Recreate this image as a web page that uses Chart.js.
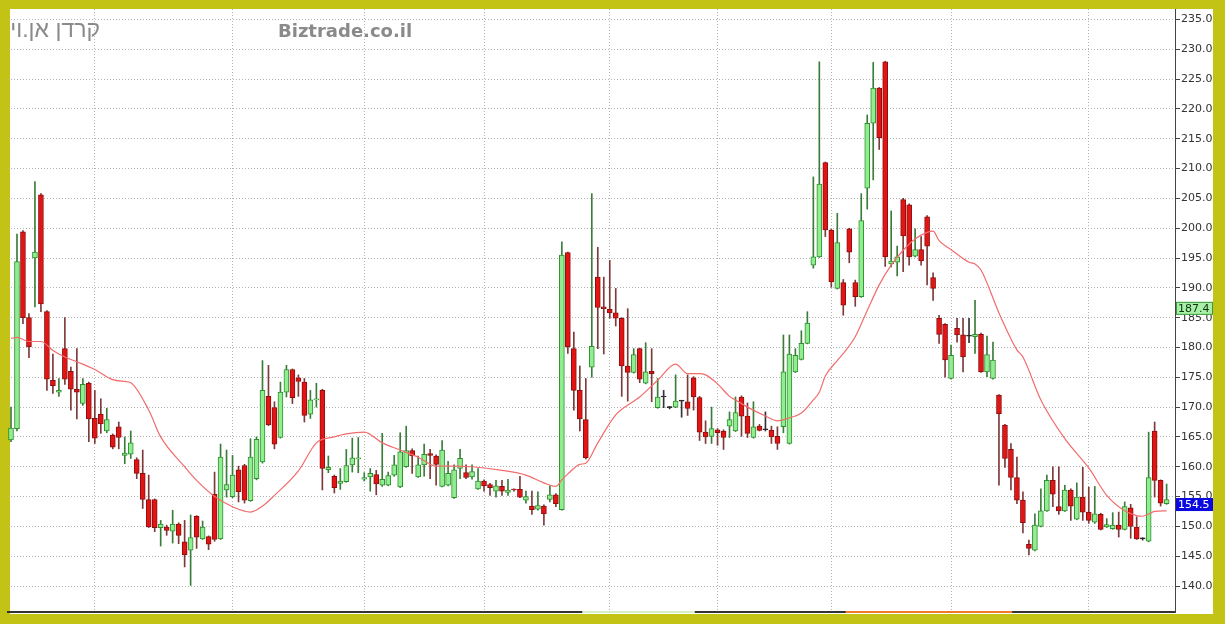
<!DOCTYPE html>
<html>

<head>
    <meta charset="utf-8">
    <title>chart</title>
    <script src="https://cdn.jsdelivr.net/npm/chart.js"></script>
    <style>
        html, body { margin: 0; padding: 0; background: #c3c316; overflow: hidden; }
        canvas { display: block; }
    </style>
</head>

<body>
    <canvas id="myChart" width="1225" height="624"></canvas>
    <script>
    // daily candles
    var opens = [164.5,166.4,199.4,185.0,195.0,205.6,186.0,174.5,172.5,179.8,
        176.0,173.0,170.6,174.0,168.1,168.8,166.0,165.3,166.7,161.9,
        162.1,161.2,158.9,154.5,154.5,149.8,149.9,149.2,150.4,147.4,
        146.0,151.7,147.9,148.3,155.4,147.9,156.1,155.0,159.5,160.2,
        154.3,158.0,160.8,171.8,169.9,164.9,172.5,176.3,174.9,174.2,
        168.8,171.2,172.8,159.5,158.4,157.2,157.5,160.3,161.3,157.9,
        158.3,158.7,156.9,156.9,158.6,156.6,160.0,162.7,158.3,160.3,
        162.2,161.8,156.7,156.9,154.8,159.7,159.0,158.3,156.3,157.6,
        157.0,155.9,156.7,155.7,156.2,156.2,154.4,153.4,152.9,153.4,
        154.5,155.3,152.8,195.9,179.8,172.8,167.9,176.7,191.8,186.8,
        186.4,185.8,184.9,176.9,175.8,179.8,174.0,176.0,169.9,171.7,
        169.9,170.0,171.0,170.9,174.9,171.6,165.8,165.1,166.2,166.0,
        166.8,166.0,171.7,168.5,164.9,166.8,166.2,166.1,165.1,166.7,
        163.9,175.9,178.0,180.7,193.8,195.2,211.0,199.7,189.9,190.9,
        199.9,190.9,188.5,206.7,217.6,223.5,227.9,194.0,194.3,204.8,
        203.9,195.3,196.4,201.9,191.7,184.9,183.9,174.8,183.2,182.1,
        181.9,181.8,182.2,175.9,174.8,172.0,167.0,162.9,158.2,154.4,
        147.0,146.0,150.0,152.6,157.7,153.3,152.6,156.1,151.2,154.9,
        152.4,150.7,152.0,149.9,149.6,150.2,149.5,153.1,149.9,147.9,
        147.5,166.0,157.7,153.8];
    var highs = [170.0,199.0,199.6,185.7,207.8,205.8,186.2,178.9,174.8,185.0,
        176.7,179.8,174.8,174.2,172.8,171.4,169.8,165.5,167.5,165.0,
        166.0,161.5,162.8,158.6,154.6,151.0,150.2,152.7,150.6,151.0,
        151.9,151.8,150.9,148.4,159.1,163.8,162.8,161.9,160.1,160.4,
        164.7,165.0,177.8,177.0,170.9,174.2,177.0,176.4,175.4,174.8,
        172.8,174.0,173.0,161.8,158.6,159.7,162.9,164.8,164.9,159.0,
        159.7,159.4,165.6,159.1,161.9,165.7,166.8,163.0,161.8,163.8,
        162.9,162.0,164.4,160.9,160.3,162.9,160.3,160.3,159.7,157.8,
        157.2,157.7,157.7,157.9,156.3,158.4,155.9,155.9,155.8,153.6,
        156.8,155.5,197.7,196.0,182.6,176.9,174.8,205.8,196.8,191.8,
        194.6,189.9,185.0,186.5,179.8,179.9,180.8,179.8,174.8,172.8,
        170.1,175.4,171.1,175.4,175.1,171.8,167.7,170.0,166.4,166.2,
        169.2,171.7,171.9,170.7,170.9,167.1,169.2,166.8,166.7,182.1,
        182.1,179.8,182.8,186.0,208.6,227.9,211.1,199.8,202.5,191.4,
        200.0,191.3,205.8,219.0,227.8,223.6,228.0,202.9,197.0,205.0,
        204.1,199.9,198.6,202.1,192.5,185.4,184.0,180.4,184.9,184.9,
        184.9,187.9,182.4,181.9,180.9,172.1,167.1,163.9,161.6,155.8,
        147.7,152.1,156.3,158.6,160.0,160.0,156.9,156.3,157.3,159.9,
        156.6,156.7,152.2,151.3,152.3,152.4,154.1,153.7,151.6,148.1,
        165.8,167.5,157.8,157.1];
    var lows = [164.2,166.0,184.0,178.3,186.8,186.0,172.8,172.3,171.8,173.8,
        169.5,168.0,170.3,164.2,163.9,165.6,165.7,163.0,163.0,160.5,
        161.4,158.0,153.0,149.8,149.1,146.7,148.5,147.2,147.1,143.2,
        140.1,146.3,147.8,146.1,147.5,147.8,154.9,154.8,154.1,153.9,
        154.2,157.8,160.6,166.9,163.0,164.8,171.7,170.6,171.8,167.5,
        168.1,170.0,156.1,159.0,155.6,156.2,157.4,159.1,159.0,157.6,
        155.9,155.3,156.7,156.8,158.4,156.5,159.9,158.9,158.2,158.4,
        158.0,156.9,156.6,156.8,154.7,158.0,158.0,157.9,156.2,155.9,
        155.2,154.9,155.2,155.2,155.9,154.8,153.9,152.0,152.7,150.2,
        154.1,153.3,152.7,179.0,169.5,166.0,161.3,175.0,179.8,178.9,
        184.9,183.6,171.8,171.0,175.7,174.1,173.9,170.9,169.8,169.9,
        169.7,169.9,168.3,168.6,169.5,164.4,163.9,163.9,163.6,162.9,
        164.9,165.9,165.1,164.9,164.8,166.0,166.0,163.9,162.9,165.7,
        163.8,175.8,177.9,180.6,193.3,195.1,198.6,190.1,189.8,185.4,
        194.2,186.9,188.4,203.2,208.1,213.2,193.6,193.5,192.0,192.7,
        193.8,195.2,193.8,190.5,187.9,180.7,175.0,174.7,180.9,175.9,
        180.8,179.0,175.8,175.1,174.7,156.9,159.9,156.1,153.8,148.9,
        145.2,145.9,149.9,152.5,153.3,152.0,152.5,151.0,151.1,151.0,
        150.5,150.5,149.4,149.8,149.5,148.2,149.4,148.0,147.8,147.7,
        147.4,154.9,153.4,153.7];
    var closes = [166.5,194.4,185.0,180.1,196.0,187.3,174.7,173.6,172.8,174.7,
        173.0,172.5,173.8,168.0,164.8,167.2,167.9,163.3,164.9,162.3,
        164.0,158.9,154.5,149.9,149.8,150.4,149.3,150.4,148.5,145.2,
        148.1,148.2,149.9,147.0,147.8,161.6,157.0,158.6,155.8,154.4,
        161.6,164.6,172.8,167.0,163.8,172.5,176.3,171.6,174.3,168.6,
        171.2,171.4,159.7,159.9,156.5,157.6,160.2,161.5,161.5,158.2,
        158.9,157.1,157.9,158.5,160.3,162.5,162.7,161.8,160.3,162.1,
        161.9,160.4,162.8,158.9,159.5,161.4,158.2,159.2,157.6,156.8,
        156.5,156.8,155.9,156.1,156.1,154.9,155.0,152.8,153.5,152.1,
        155.3,153.8,195.5,180.1,172.8,168.0,161.5,180.2,186.7,186.5,
        185.8,184.9,176.9,175.8,178.8,174.7,175.9,175.6,171.7,171.7,
        169.9,171.0,171.0,169.8,171.7,165.8,165.0,166.4,165.7,164.9,
        167.9,169.1,168.5,165.6,166.7,166.1,166.2,165.0,163.9,175.9,
        178.9,178.7,180.7,184.1,195.2,207.4,199.7,191.0,197.6,187.1,
        196.0,188.5,201.3,217.6,223.5,215.2,195.2,194.5,195.2,198.7,
        195.2,196.4,194.5,197.0,189.9,182.2,177.9,178.7,182.1,178.4,
        181.9,182.2,175.9,178.8,177.9,168.9,161.4,158.2,154.4,150.6,
        146.3,150.2,152.6,157.7,155.4,152.6,156.1,153.4,154.9,152.4,
        151.0,152.1,149.5,150.3,150.2,149.5,153.3,150.0,147.9,147.9,
        158.2,157.7,153.9,154.5];

    // moving average, read at these days
    var maDays = [0,1,3,5,7,9,11,14,17,19,20,23,25,29,31,34,37,40,42,44,
        48,51,54,56,59,62,65,68,71,74,77,82,86,89,91,92,93,95,96,98,
        101,104,105,108,111,113,115,116,118,120,121,123,126,128,130,132,134,135,136,138,
        139,141,143,145,147,149,151,153,154,155,157,160,161,162,165,168,169,172,176,180,
        183,186,188,189,191,193];
    var maValues = [181.5,181.7,181.0,181.0,179.5,178.4,177.6,176.3,174.6,174.3,174.1,169.5,165.0,160.0,157.7,155.0,153.3,152.4,153.4,155.2,
        159.3,164.0,165.0,165.5,165.8,164.0,162.8,161.6,160.1,160.1,160.0,159.4,158.6,157.3,156.7,157.8,158.8,160.4,160.6,164.0,
        168.7,171.0,171.7,174.5,177.2,175.6,175.6,175.4,173.9,171.8,171.2,170.0,168.5,167.7,168.2,169.0,171.2,172.5,175.2,177.8,
        179.0,181.8,186.2,190.5,193.8,196.3,198.2,199.3,199.5,197.9,196.4,194.3,194.0,193.0,185.8,179.6,178.4,171.2,164.7,159.8,
        155.2,152.6,151.8,151.7,152.5,152.6];

    var priceTicks = [140,145,150,155,160,165,170,175,180,185,190,195,200,205,210,215,220,225,230,235];
    var monthStarts = [14,37,59,79,100,118,137,157,180];
    var markers = [187.4, 154.5];

    // build bar data
    var bodies = opens.map(function (o, i) { return { x: i, y: [o, closes[i]] }; });
    var wicks = opens.map(function (o, i) { return { x: i, y: [lows[i], highs[i]] }; });
    var maPoints = maDays.map(function (d, i) { return { x: d, y: maValues[i] }; });

    function dir(i) {
        if (closes[i] > opens[i]) return 1;
        if (closes[i] < opens[i]) return -1;
        return 0;
    }

    var frame = {
        id: 'frame',
        beforeDraw: function (chart) {
            var ctx = chart.ctx;
            ctx.save();
            ctx.fillStyle = '#c3c316';
            ctx.fillRect(0, 0, chart.width, chart.height);
            ctx.fillStyle = '#ffffff';
            ctx.fillRect(10, 9, 1203, 605);
            ctx.restore();
        },
        beforeDatasetsDraw: function (chart) {
            var ctx = chart.ctx;
            ctx.save();
            ctx.fillStyle = '#8a8a8a';
            ctx.textBaseline = 'alphabetic';
            ctx.font = 'bold 18px "DejaVu Sans"';
            ctx.textAlign = 'left';
            ctx.fillText('Biztrade.co.il', 278, 37);
            // hebrew name, fitted to its box
            var heb = 'קרדן אן.וי';
            ctx.font = '18px "Liberation Sans"';
            var w = ctx.measureText(heb).width;
            var size = Math.round(18 * 90 / w);
            ctx.font = size + 'px "Liberation Sans"';
            ctx.direction = 'rtl';
            ctx.textAlign = 'right';
            ctx.fillText(heb, 100, 37);
            ctx.restore();
        },
        afterDraw: function (chart) {
            var ctx = chart.ctx;
            var xs = chart.scales.x, ys = chart.scales.y;
            var b = chart.chartArea.bottom;
            ctx.save();
            // bottom strip
            ctx.fillStyle = '#d4f0c4';
            ctx.fillRect(xs.getPixelForValue(95.4), b - 1, xs.getPixelForValue(114.2) - xs.getPixelForValue(95.4), 2);
            ctx.fillStyle = '#f07a2a';
            ctx.fillRect(xs.getPixelForValue(139.4), b - 1, xs.getPixelForValue(167.2) - xs.getPixelForValue(139.4), 2);
            // value boxes on the axis
            ctx.font = '11px "DejaVu Sans"';
            ctx.textBaseline = 'middle';
            ctx.textAlign = 'left';
            markers.forEach(function (v, k) {
                var y = ys.getPixelForValue(v) + 5;
                var x = chart.chartArea.right + 1;
                if (k === 0) {
                    ctx.fillStyle = '#a8f0a8';
                    ctx.fillRect(x, y - 6.5, 37, 13);
                    ctx.strokeStyle = '#3c9a3c';
                    ctx.lineWidth = 1;
                    ctx.strokeRect(x + 0.5, y - 6, 36, 12);
                    ctx.fillStyle = '#113311';
                } else {
                    ctx.fillStyle = '#0a0ae0';
                    ctx.fillRect(x, y - 6.5, 37, 13);
                    ctx.fillStyle = '#ffffff';
                }
                ctx.fillText(v.toFixed(1), x + 2, y + 0.5);
            });
            ctx.restore();
        }
    };

    var ctx = document.getElementById('myChart').getContext('2d');
    var myChart = new Chart(ctx, {
        type: 'bar',
        data: {
            datasets: [{
                type: 'line',
                label: 'MA',
                data: maPoints,
                borderColor: '#f26c6c',
                borderWidth: 1.2,
                pointRadius: 0,
                cubicInterpolationMode: 'monotone',
                fill: false
            }, {
                label: 'body',
                data: bodies,
                grouped: false,
                barThickness: 5,
                minBarLength: 1,
                borderWidth: 1,
                borderSkipped: false,
                backgroundColor: function (c) {
                    var d = dir(c.dataIndex);
                    return d > 0 ? '#90ee90' : (d < 0 ? '#e41414' : '#222222');
                },
                borderColor: function (c) {
                    var d = dir(c.dataIndex);
                    return d > 0 ? '#2f8f2f' : (d < 0 ? '#8a1010' : '#222222');
                }
            }, {
                label: 'wick',
                data: wicks,
                grouped: false,
                barThickness: 1,
                borderWidth: 0,
                backgroundColor: function (c) {
                    var d = dir(c.dataIndex);
                    return d > 0 ? '#3a7d3a' : (d < 0 ? '#7e3a3a' : '#333333');
                }
            }]
        },
        options: {
            responsive: false,
            animation: false,
            events: [],
            layout: { padding: { left: 8, top: 9, right: 12, bottom: 12 } },
            plugins: {
                legend: { display: false },
                tooltip: { enabled: false }
            },
            scales: {
                x: {
                    type: 'linear',
                    offset: false,
                    min: -0.5,
                    max: 194.4,
                    afterBuildTicks: function (scale) {
                        scale.ticks = monthStarts.map(function (v) { return { value: v }; });
                    },
                    afterFit: function (scale) { scale.height = 0; },
                    ticks: { display: false },
                    grid: { offset: false, color: '#b4b4b4', drawTicks: false },
                    border: { color: '#333333', width: 2, dash: [1, 2] }
                },
                y: {
                    position: 'right',
                    min: 135.64,
                    max: 236.76,
                    afterBuildTicks: function (scale) {
                        scale.ticks = priceTicks.map(function (v) { return { value: v }; });
                    },
                    afterFit: function (scale) { scale.width = 38; },
                    ticks: {
                        padding: 1,
                        color: '#333333',
                        font: { family: 'DejaVu Sans', size: 11 },
                        callback: function (v) { return Number(v).toFixed(1); }
                    },
                    grid: { color: '#b4b4b4', tickColor: '#444444', tickLength: 5 },
                    border: { color: '#444444', width: 1, dash: [1, 2] }
                }
            }
        },
        plugins: [frame]
    });
    </script>
</body>

</html>
